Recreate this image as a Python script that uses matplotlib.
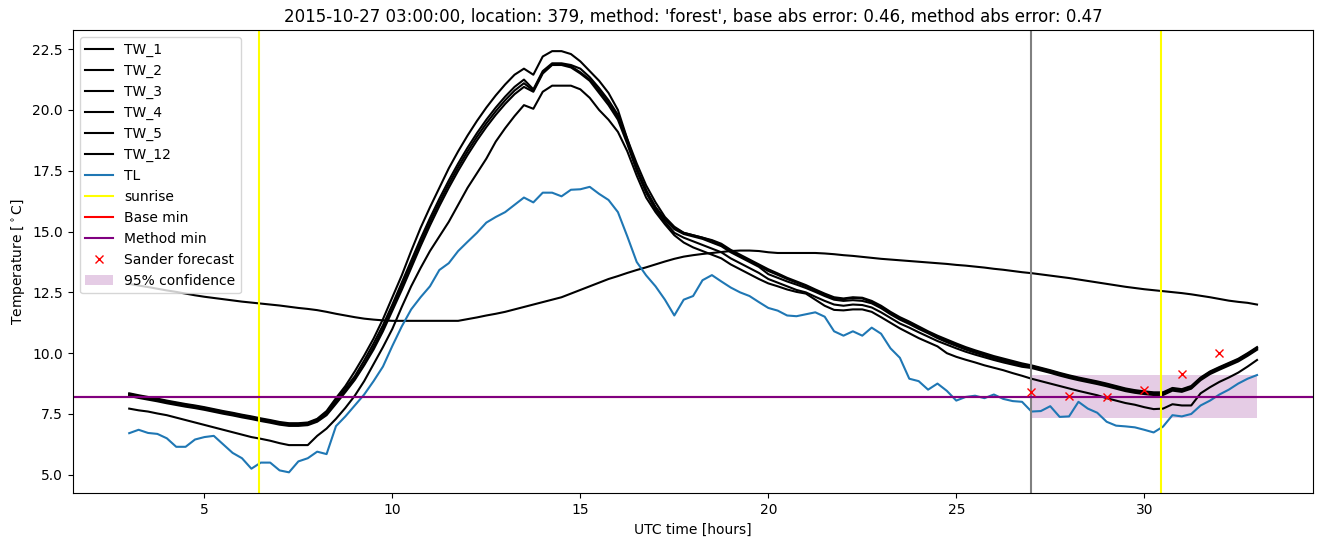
import numpy as np
import matplotlib
matplotlib.use('Agg')
import matplotlib.pyplot as plt

# sample times (hours UTC), 15 minute steps
hours = np.arange(3.0, 33.001, 0.25)

tw_1 = [8.35, 8.27, 8.2, 8.13, 8.05, 7.98, 7.91, 7.85, 7.78, 7.7, 7.62, 7.55, 7.47, 7.4, 7.32, 7.25, 7.17, 7.12, 7.12, 7.15, 7.3, 7.62, 8.15, 8.65,
        9.25, 9.9, 10.6, 11.4, 12.3, 13.2, 14.2, 15.15, 16.0, 16.8, 17.6, 18.3, 18.95, 19.55, 20.1, 20.6, 21.05, 21.45, 21.7, 21.45, 22.2, 22.42, 22.42, 22.3,
        22.0, 21.6, 21.2, 20.7, 20.0, 18.8, 17.6, 16.7, 16.0, 15.5, 15.15, 14.95, 14.85, 14.75, 14.65, 14.5, 14.25, 14.05, 13.85, 13.65, 13.45, 13.28, 13.1, 12.95,
        12.8, 12.62, 12.45, 12.3, 12.25, 12.3, 12.28, 12.15, 11.95, 11.7, 11.48, 11.3, 11.1, 10.9, 10.72, 10.56, 10.4, 10.25, 10.12, 10.0, 9.88, 9.78, 9.68, 9.58,
        9.5, 9.4, 9.3, 9.19, 9.09, 9.0, 8.92, 8.84, 8.75, 8.65, 8.55, 8.48, 8.43, 8.39, 8.39, 8.57, 8.52, 8.65, 9.0, 9.25, 9.43, 9.6, 9.77, 10.0, 10.25]
tw_2 = [8.32, 8.24, 8.17, 8.1, 8.02, 7.95, 7.88, 7.82, 7.75, 7.67, 7.59, 7.52, 7.44, 7.37, 7.29, 7.22, 7.14, 7.09, 7.09, 7.12, 7.27, 7.57, 8.07, 8.55,
        9.05, 9.7, 10.4, 11.15, 12.0, 12.9, 13.8, 14.7, 15.55, 16.35, 17.1, 17.8, 18.45, 19.05, 19.6, 20.1, 20.55, 20.95, 21.25, 20.85, 21.6, 21.92, 21.92, 21.85,
        21.7, 21.35, 20.9, 20.4, 19.8, 18.8, 17.8, 16.9, 16.2, 15.6, 15.2, 14.95, 14.85, 14.75, 14.62, 14.45, 14.2, 14.0, 13.8, 13.6, 13.38, 13.22, 13.05, 12.9,
        12.75, 12.58, 12.4, 12.25, 12.22, 12.27, 12.25, 12.1, 11.9, 11.65, 11.43, 11.25, 11.05, 10.85, 10.68, 10.5, 10.35, 10.2, 10.07, 9.95, 9.83, 9.73, 9.63, 9.53,
        9.47, 9.37, 9.27, 9.16, 9.06, 8.97, 8.89, 8.81, 8.72, 8.62, 8.52, 8.45, 8.4, 8.36, 8.36, 8.54, 8.49, 8.62, 8.97, 9.22, 9.4, 9.57, 9.74, 9.97, 10.22]
tw_3 = [8.28, 8.2, 8.13, 8.06, 7.98, 7.91, 7.84, 7.78, 7.71, 7.63, 7.55, 7.48, 7.4, 7.33, 7.25, 7.18, 7.1, 7.05, 7.05, 7.08, 7.22, 7.5, 7.98, 8.45,
        8.95, 9.55, 10.25, 11.0, 11.85, 12.75, 13.65, 14.55, 15.4, 16.2, 16.95, 17.65, 18.3, 18.9, 19.45, 19.95, 20.4, 20.8, 21.1, 20.8, 21.55, 21.88, 21.88, 21.8,
        21.55, 21.25, 20.8, 20.3, 19.7, 18.7, 17.6, 16.7, 16.0, 15.5, 15.1, 14.9, 14.8, 14.7, 14.55, 14.4, 14.15, 13.95, 13.75, 13.55, 13.25, 13.1, 12.95, 12.82,
        12.68, 12.52, 12.35, 12.2, 12.15, 12.18, 12.15, 12.05, 11.85, 11.6, 11.38, 11.2, 11.0, 10.82, 10.62, 10.45, 10.3, 10.15, 10.02, 9.9, 9.78, 9.68, 9.58, 9.48,
        9.43, 9.33, 9.23, 9.12, 9.02, 8.93, 8.85, 8.77, 8.68, 8.58, 8.48, 8.41, 8.36, 8.32, 8.32, 8.5, 8.45, 8.58, 8.93, 9.18, 9.36, 9.53, 9.7, 9.93, 10.18]
tw_4 = [8.24, 8.16, 8.09, 8.02, 7.94, 7.87, 7.8, 7.74, 7.67, 7.59, 7.51, 7.44, 7.36, 7.29, 7.21, 7.14, 7.06, 7.01, 7.01, 7.04, 7.18, 7.45, 7.92, 8.4,
        8.9, 9.5, 10.15, 10.9, 11.75, 12.6, 13.5, 14.4, 15.25, 16.05, 16.8, 17.5, 18.15, 18.75, 19.3, 19.8, 20.25, 20.65, 20.95, 20.75, 21.5, 21.85, 21.85, 21.75,
        21.5, 21.2, 20.7, 20.2, 19.6, 18.6, 17.5, 16.6, 15.9, 15.4, 14.95, 14.75, 14.6, 14.45, 14.3, 14.15, 13.9, 13.7, 13.5, 13.3, 13.05, 12.9, 12.75, 12.6,
        12.5, 12.32, 12.15, 12.0, 11.95, 12.0, 11.98, 11.88, 11.68, 11.45, 11.22, 11.05, 10.86, 10.68, 10.5, 10.35, 10.2, 10.06, 9.94, 9.83, 9.72, 9.62, 9.53, 9.44,
        9.39, 9.29, 9.19, 9.08, 8.98, 8.89, 8.81, 8.73, 8.64, 8.54, 8.44, 8.37, 8.32, 8.28, 8.28, 8.46, 8.41, 8.54, 8.89, 9.14, 9.32, 9.49, 9.66, 9.89, 10.14]
tw_5 = [7.72, 7.65, 7.6, 7.52, 7.45, 7.35, 7.25, 7.15, 7.05, 6.95, 6.85, 6.75, 6.65, 6.55, 6.48, 6.4, 6.3, 6.22, 6.22, 6.22, 6.6, 6.9, 7.3, 7.75,
        8.25, 8.85, 9.55, 10.25, 11.0, 11.9, 12.75, 13.5, 14.2, 14.8, 15.4, 16.1, 16.8, 17.4, 18.0, 18.7, 19.25, 19.75, 20.2, 20.05, 20.75, 21.0, 21.0, 21.0,
        20.85, 20.5, 20.0, 19.6, 19.1, 18.3, 17.3, 16.4, 15.8, 15.3, 14.85, 14.55, 14.35, 14.2, 14.05, 13.9, 13.65, 13.45, 13.25, 13.05, 12.87, 12.75, 12.62, 12.52,
        12.45, 12.2, 11.95, 11.78, 11.76, 11.8, 11.8, 11.7, 11.48, 11.25, 11.02, 10.82, 10.62, 10.45, 10.28, 10.0, 9.85, 9.73, 9.62, 9.5, 9.4, 9.3, 9.18, 9.07,
        8.95, 8.85, 8.75, 8.65, 8.55, 8.45, 8.36, 8.27, 8.15, 8.05, 7.95, 7.88, 7.78, 7.7, 7.72, 7.9, 7.85, 7.85, 8.35, 8.6, 8.82, 9.0, 9.2, 9.45, 9.72]
tw_12 = [12.85, 12.78, 12.72, 12.65, 12.58, 12.52, 12.45, 12.38, 12.32, 12.27, 12.22, 12.17, 12.12, 12.08, 12.04, 12.0, 11.96, 11.91, 11.86, 11.82, 11.77, 11.7, 11.62, 11.55,
         11.48, 11.42, 11.38, 11.35, 11.33, 11.33, 11.33, 11.33, 11.33, 11.33, 11.33, 11.33, 11.4, 11.47, 11.55, 11.62, 11.7, 11.8, 11.9, 12.0, 12.1, 12.2, 12.3, 12.45,
         12.6, 12.75, 12.9, 13.05, 13.17, 13.3, 13.42, 13.53, 13.65, 13.77, 13.88, 13.97, 14.03, 14.08, 14.12, 14.16, 14.2, 14.22, 14.22, 14.2, 14.15, 14.12, 14.12, 14.12,
         14.12, 14.12, 14.1, 14.07, 14.03, 14.0, 13.96, 13.92, 13.88, 13.85, 13.82, 13.79, 13.76, 13.73, 13.7, 13.67, 13.63, 13.6, 13.56, 13.52, 13.47, 13.43, 13.38, 13.33,
         13.29, 13.24, 13.19, 13.14, 13.09, 13.03, 12.97, 12.91, 12.85, 12.79, 12.73, 12.68, 12.63, 12.59, 12.55, 12.51, 12.47, 12.42, 12.36, 12.3, 12.23, 12.16, 12.11, 12.07, 12.0]
tl = [6.71, 6.85, 6.72, 6.68, 6.5, 6.15, 6.15, 6.45, 6.55, 6.6, 6.25, 5.9, 5.68, 5.25, 5.5, 5.5, 5.18, 5.1, 5.55, 5.68, 5.95, 5.85, 7.0, 7.4,
      7.85, 8.3, 8.85, 9.45, 10.3, 11.1, 11.8, 12.3, 12.75, 13.42, 13.7, 14.2, 14.58, 14.95, 15.37, 15.6, 15.8, 16.1, 16.4, 16.2, 16.6, 16.6, 16.45, 16.72,
      16.74, 16.84, 16.55, 16.3, 15.8, 14.8, 13.75, 13.2, 12.75, 12.2, 11.55, 12.2, 12.35, 13.0, 13.21, 12.95, 12.7, 12.5, 12.35, 12.1, 11.86, 11.75, 11.55, 11.52,
      11.6, 11.68, 11.5, 10.9, 10.72, 10.9, 10.72, 11.05, 10.8, 10.2, 9.81, 8.95, 8.85, 8.5, 8.75, 8.45, 8.05, 8.2, 8.25, 8.15, 8.3, 8.12, 8.03, 8.0,
      7.6, 7.62, 7.82, 7.38, 7.4, 8.0, 7.72, 7.55, 7.18, 7.02, 6.99, 6.95, 6.85, 6.74, 6.98, 7.45, 7.4, 7.5, 7.85, 8.05, 8.3, 8.5, 8.75, 8.95, 9.1]

tw_series = {'TW_1': tw_1, 'TW_2': tw_2, 'TW_3': tw_3, 'TW_4': tw_4, 'TW_5': tw_5, 'TW_12': tw_12}

sunrise_hours = [6.46, 30.45]
forecast_start = 27.0
base_min = 8.2
method_min = 8.19
sander_hours = [27, 28, 29, 30, 31, 32]
sander_values = [8.40, 8.24, 8.19, 8.48, 9.15, 10.0]
conf_hours = [27.0, 33.0]
conf_low = 7.32
conf_high = 9.11

fig, ax = plt.subplots(figsize=(13.24, 5.47), dpi=100)
fig.subplots_adjust(left=0.055, right=0.992, top=0.945, bottom=0.098)

for name, vals in tw_series.items():
    ax.plot(hours, vals, color='black', label=name)
ax.plot(hours, tl, color='tab:blue', label='TL')

for i, s in enumerate(sunrise_hours):
    ax.axvline(s, color='yellow', label='sunrise' if i == 0 else None)
ax.axvline(forecast_start, color='gray')

ax.axhline(base_min, color='red', label='Base min')
ax.axhline(method_min, color='purple', label='Method min')
ax.plot(sander_hours, sander_values, 'x', color='red', linestyle='none', label='Sander forecast')
ax.fill_between(conf_hours, conf_low, conf_high, color='purple', alpha=0.2, linewidth=0, label='95% confidence')

ax.set_title("2015-10-27 03:00:00, location: 379, method: 'forest', base abs error: 0.46, method abs error: 0.47")
ax.set_xlabel('UTC time [hours]')
ax.set_ylabel(r'Temperature [$^\circ$C]')
ax.legend(loc='upper left')

plt.savefig('out.png', dpi=100)
